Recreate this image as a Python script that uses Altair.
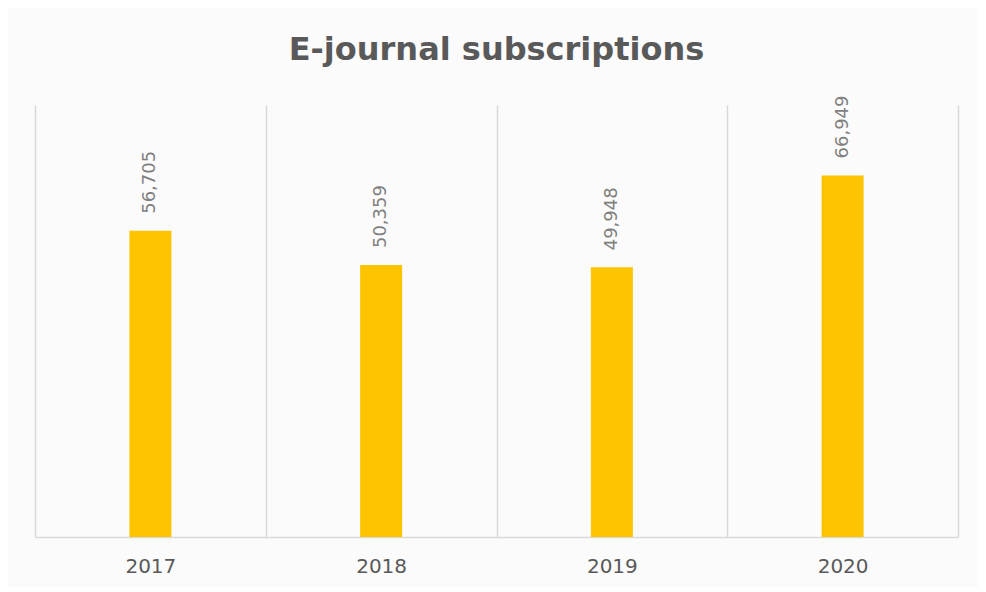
import altair as alt
import pandas as pd

years = ["2017", "2018", "2019", "2020"]
subscriptions = [56705, 50359, 49948, 66949]

df = pd.DataFrame({"year": years, "value": subscriptions})

base = alt.Chart(df).encode(
    x=alt.X("year:N", sort=years, title=None,
            scale=alt.Scale(paddingInner=0, paddingOuter=0),
            axis=alt.Axis(labelAngle=0, labelFont="DejaVu Sans", labelFontSize=20,
                          labelColor="#595959", labelBaseline="alphabetic",
                          labelPadding=35, ticks=False, tickSize=0,
                          domainColor="#D9D9D9", domainWidth=1.5,
                          grid=True, gridColor="#D9D9D9", gridWidth=1.5,
                          tickBand="extent")),
    y=alt.Y("value:Q", title=None,
            scale=alt.Scale(domain=[0, 80000], nice=False),
            axis=None),
)

bars = base.mark_bar(size=42, color="#FFC400")
labels = base.mark_text(angle=270, align="left", baseline="middle", dx=17,
                        font="DejaVu Sans", fontSize=18, color="#7F7F7F").encode(
    text=alt.Text("value:Q", format=",")
)

chart = (bars + labels).properties(
    width=923, height=432,
    title=alt.TitleParams("E-journal subscriptions", font="DejaVu Sans", fontSize=32,
                          fontWeight="bold", color="#595959", anchor="middle",
                          baseline="alphabetic", offset=3),
    autosize=alt.AutoSizeParams(type="none"),
    padding={"left": 27, "top": 97, "right": 20, "bottom": 50},
    background="#FBFBFB",
).configure_view(stroke=None)

chart.save("out.html", embed_options={"renderer": "svg", "actions": False})
